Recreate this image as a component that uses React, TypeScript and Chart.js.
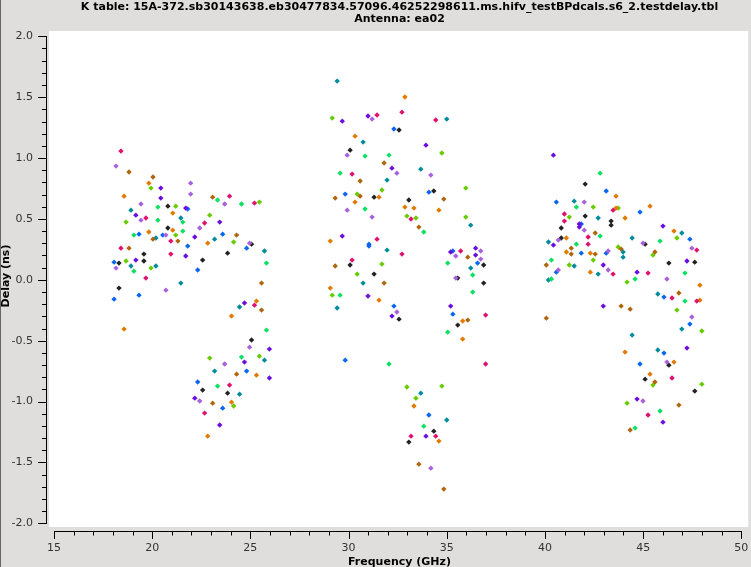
import React, { useEffect, useRef } from 'react';
import { Chart, registerables } from 'chart.js';

Chart.register(...registerables);

const TITLE_LINES = [
  'K table: 15A-372.sb30143638.eb30477834.57096.46252298611.ms.hifv_testBPdcals.s6_2.testdelay.tbl',
  'Antenna: ea02',
];
const X_TITLE = 'Frequency (GHz)';
const Y_TITLE = 'Delay (ns)';

const X_TICKS = [15, 20, 25, 30, 35, 40, 45, 50];
const Y_TICKS = [-2.0, -1.5, -1.0, -0.5, 0.0, 0.5, 1.0, 1.5, 2.0];
const X_MINOR_STEP = 1;
const Y_MINOR_STEP = 0.1;
const X_MIN = 14.645;
const X_MAX = 50.355;
const Y_MIN = -2.0632;
const Y_MAX = 2.0435;

type P = [number, number];

const magentaPts: P[] = [
  [18.41, 1.057], [23.94, 0.687], [25.21, 0.63], [19.68, 0.507], [22.67, 0.466], [20.95, 0.318], [18.41, 0.26], [20.95, 0.211], [19.68, 0.014], [25.21, -0.208], [23.94, -0.865], [22.67, -1.095],
  [31.45, 1.353], [32.72, 1.377], [34.44, 1.312], [30.18, 0.868], [33.18, 0.499], [31.45, 0.334], [32.72, 0.211], [35.71, 0.236], [30.18, 0.162], [36.98, -0.29], [36.98, -0.692], [33.18, -1.284], [34.44, -1.284],
  [43.47, 0.572], [40.99, 0.54], [40.99, 0.482], [42.2, 0.351], [42.2, 0.293], [47.73, 0.244], [43.47, 0.047], [45.25, 0.055], [46.47, -0.15], [47.73, -0.175], [46.47, -0.807], [45.25, -1.111],
];
const lavenderPts: P[] = [
  [18.16, 0.934], [21.96, 0.794], [21.96, 0.704], [23.69, 0.622], [19.43, 0.622], [19.43, 0.49], [22.42, 0.425], [20.7, 0.367], [24.96, 0.301], [18.16, 0.096], [20.7, -0.085], [24.96, -0.553], [23.69, -0.692], [22.42, -0.996],
  [31.2, 1.32], [29.93, 1.024], [32.46, 0.876], [34.19, 0.86], [29.93, 0.572], [31.2, 0.515], [35.46, 0.195], [36.73, 0.236], [36.73, 0.17], [35.46, 0.014], [32.46, -0.265], [34.19, -1.547],
  [42.0, 0.638], [42.0, 0.408], [40.68, 0.326], [44.99, 0.301], [43.22, 0.236], [47.48, 0.26], [40.68, 0.08], [43.22, 0.08], [46.21, 0.006], [47.48, -0.306], [46.21, -0.676], [44.99, -0.996],
];
const brownPts: P[] = [
  [18.82, 0.885], [20.04, 0.844], [23.08, 0.679], [20.04, 0.334], [21.31, 0.318], [24.3, 0.367], [18.82, 0.26], [25.57, -0.027], [25.57, -0.249], [24.3, -0.775], [23.08, -1.013],
  [31.81, 0.959], [30.59, 0.811], [30.59, 0.687], [29.32, 0.671], [34.85, 0.663], [33.58, 0.433], [36.07, 0.186], [29.32, 0.113], [31.81, -0.027], [36.07, -0.331], [33.58, -1.514], [34.85, -1.719],
  [42.56, 0.384], [41.34, 0.26], [41.34, 0.211], [42.56, 0.211], [43.88, 0.252], [45.6, 0.228], [40.07, 0.121], [46.82, -0.109], [43.88, -0.216], [44.34, -0.241], [40.07, -0.315], [45.6, -0.84], [46.82, -1.029], [44.34, -1.234],
];
const orangePts: P[] = [
  [19.83, 0.794], [18.57, 0.687], [21.05, 0.548], [21.05, 0.408], [19.83, 0.392], [22.83, 0.301], [25.31, -0.175], [24.04, -0.298], [18.57, -0.405], [25.31, -0.783], [24.04, -1.005], [22.83, -1.284],
  [32.87, 1.501], [30.33, 1.18], [31.55, 0.679], [30.33, 0.638], [32.87, 0.597], [33.33, 0.589], [34.6, 0.572], [29.07, 0.318], [29.07, -0.068], [31.55, -0.167], [35.81, -0.339], [35.81, -0.487], [33.33, -1.037], [34.6, -1.325],
  [43.62, 0.687], [45.35, 0.605], [43.62, 0.589], [44.08, 0.507], [46.57, 0.4], [41.09, 0.343], [41.09, 0.228], [42.31, 0.219], [42.31, 0.063], [47.89, -0.044], [47.89, -0.167], [44.08, -0.594], [46.57, -0.676], [45.35, -0.775],
];
const purplePts: P[] = [
  [20.44, 0.753], [20.44, 0.671], [21.71, 0.589], [19.17, 0.531], [23.44, 0.474], [22.17, 0.351], [21.71, 0.195], [19.17, 0.162], [24.7, -0.191], [25.97, -0.569], [24.7, -0.676], [25.97, -0.807], [22.17, -0.972], [23.44, -1.193],
  [29.68, 1.303], [30.99, 1.345], [33.94, 1.106], [32.21, 0.917], [29.68, 0.359], [35.2, 0.228], [36.47, 0.26], [36.47, 0.203], [30.99, -0.134], [32.21, -0.298], [35.2, -0.216], [33.94, -1.284],
  [40.43, 1.024], [41.75, 0.458], [41.75, 0.433], [46.01, 0.441], [40.43, 0.285], [42.97, 0.121], [44.69, 0.063], [47.23, 0.154], [42.97, -0.216], [47.23, -0.561], [44.69, -0.98], [46.01, -1.169],
];
const limePts: P[] = [
  [19.94, 0.753], [25.46, 0.638], [21.2, 0.605], [18.67, 0.474], [22.93, 0.531], [21.2, 0.367], [24.15, 0.31], [18.67, 0.154], [19.94, 0.096], [22.93, -0.643], [25.46, -0.627], [24.15, -1.037],
  [29.17, 1.328], [34.75, 1.041], [35.97, 0.753], [31.7, 0.737], [30.44, 0.704], [32.97, 0.523], [33.43, 0.507], [35.97, 0.515], [31.7, 0.129], [30.44, 0.047], [29.17, -0.126], [32.97, -0.881], [34.75, -0.873], [33.43, -0.972],
  [42.46, 0.597], [43.73, 0.589], [41.24, 0.515], [46.72, 0.343], [43.73, 0.269], [45.5, 0.203], [41.24, 0.121], [42.46, 0.162], [44.18, -0.019], [46.72, -0.249], [47.99, -0.421], [45.5, -0.865], [47.99, -0.857], [44.18, -1.013],
];
const greenPts: P[] = [
  [23.33, 0.655], [24.55, 0.622], [20.29, 0.597], [20.29, 0.49], [21.56, 0.474], [21.56, 0.4], [19.07, 0.367], [19.07, 0.071], [25.82, 0.137], [25.82, -0.413], [24.55, -0.635], [23.33, -0.873],
  [30.84, 1.016], [32.06, 1.024], [29.57, 0.876], [30.84, 0.581], [33.83, 0.392], [35.05, 0.137], [36.32, 0.039], [36.32, -0.101], [29.57, -0.126], [35.05, -0.43], [32.06, -0.692], [33.83, -1.202],
  [42.81, 0.876], [41.6, 0.597], [42.81, 0.359], [41.6, 0.293], [45.86, 0.318], [40.33, 0.162], [40.33, 0.006], [44.59, 0.006], [47.13, 0.055], [47.13, -0.175], [45.86, -1.078], [44.59, -1.218],
];
const tealPts: P[] = [
  [18.92, 0.572], [21.46, 0.507], [20.19, 0.343], [23.18, 0.334], [25.72, 0.236], [18.92, 0.113], [20.19, 0.113], [21.46, -0.027], [24.45, -0.224], [25.72, -0.66], [23.18, -0.75], [24.45, -0.939],
  [29.42, 1.632], [35.0, 1.32], [30.74, 1.131], [33.68, 0.909], [31.96, 0.819], [36.22, 0.449], [31.96, 0.244], [36.22, 0.096], [30.74, -0.027], [29.42, -0.232], [33.68, -0.931], [35.0, -1.152],
  [41.49, 0.646], [42.71, 0.507], [46.97, 0.384], [44.44, 0.343], [40.18, 0.31], [43.98, 0.228], [43.98, 0.186], [41.49, 0.113], [40.18, -0.002], [42.71, 0.047], [45.75, -0.117], [46.97, -0.405], [44.44, -0.454], [45.75, -0.577],
];
const bluePts: P[] = [
  [21.81, 0.581], [19.33, 0.375], [20.54, 0.367], [23.59, 0.375], [21.81, 0.277], [24.81, 0.26], [18.06, 0.145], [22.32, 0.08], [19.33, -0.126], [18.06, -0.159], [24.81, -0.75], [22.32, -0.84], [23.59, -1.054],
  [32.31, 1.238], [29.83, 0.704], [34.09, 0.72], [31.04, 0.293], [31.04, 0.277], [35.31, 0.236], [36.57, 0.137], [32.31, -0.216], [35.31, -0.282], [29.83, -0.66], [34.09, -1.111],
  [43.12, 0.729], [40.58, 0.638], [44.84, 0.556], [41.85, 0.458], [47.38, 0.334], [41.85, 0.219], [43.12, 0.219], [40.58, 0.063], [46.06, -0.142], [47.38, -0.364], [46.06, -0.602], [44.84, -0.692],
];
const blackPts: P[] = [
  [20.8, 0.605], [20.8, 0.425], [25.06, 0.293], [19.58, 0.211], [23.84, 0.219], [18.31, 0.137], [19.58, 0.154], [22.57, 0.162], [18.31, -0.068], [25.06, -0.495], [22.57, -0.906], [23.84, -0.931],
  [32.57, 1.23], [30.08, 1.065], [31.3, 0.679], [34.34, 0.729], [33.07, 0.655], [36.88, 0.121], [30.08, 0.121], [31.3, 0.047], [35.56, 0.014], [36.88, -0.027], [32.57, -0.323], [35.56, -0.372], [34.34, -1.243], [33.07, -1.333],
  [42.05, 0.786], [42.05, 0.523], [43.37, 0.482], [43.37, 0.449], [40.83, 0.425], [40.83, 0.343], [45.1, 0.293], [46.31, 0.137], [47.63, 0.145], [46.31, -0.701], [45.1, -0.816], [47.63, -0.914],
];

const SERIES: { pts: P[]; color: string }[] = [
  { pts: magentaPts, color: '#e0106e' },
  { pts: lavenderPts, color: '#a862dc' },
  { pts: brownPts, color: '#b0660e' },
  { pts: orangePts, color: '#e27a00' },
  { pts: purplePts, color: '#6a0ee0' },
  { pts: limePts, color: '#66cc00' },
  { pts: greenPts, color: '#0ee062' },
  { pts: tealPts, color: '#008c9c' },
  { pts: bluePts, color: '#0a66f0' },
  { pts: blackPts, color: '#222222' },
];

const BG = '#dfdedd';
const FONT = "'DejaVu Sans', sans-serif";

const framePlugin = {
  id: 'frame',
  beforeDraw(chart: any) {
    const ctx = chart.ctx as CanvasRenderingContext2D;
    const { left, top, right, bottom } = chart.chartArea;
    ctx.save();
    ctx.fillStyle = BG;
    ctx.fillRect(0, 0, chart.width, chart.height);
    ctx.fillStyle = '#ffffff';
    ctx.fillRect(left + 2, top, right - left - 2, bottom - top - 4);
    ctx.fillStyle = '#666666';
    ctx.fillRect(0, 0, 1, chart.height);
    ctx.restore();
  },
  afterDraw(chart: any) {
    const ctx = chart.ctx as CanvasRenderingContext2D;
    const xs = chart.scales.x;
    const ys = chart.scales.y;
    const { left, bottom } = chart.chartArea;
    ctx.save();
    ctx.strokeStyle = '#000';
    ctx.lineWidth = 1;
    ctx.beginPath();
    const ax = Math.round(left) - 0.5;
    const yTop = Math.round(ys.getPixelForValue(Y_TICKS[Y_TICKS.length - 1]));
    const yBot = Math.round(ys.getPixelForValue(Y_TICKS[0]));
    ctx.moveTo(ax, yTop);
    ctx.lineTo(ax, yBot + 1);
    const yFirst = Y_TICKS[0];
    const yLast = Y_TICKS[Y_TICKS.length - 1];
    const nY = Math.round((yLast - yFirst) / Y_MINOR_STEP);
    for (let i = 0; i <= nY; i++) {
      const v = yFirst + i * Y_MINOR_STEP;
      const major = i % 5 === 0;
      const py = Math.round(ys.getPixelForValue(v)) + 0.5;
      ctx.moveTo(ax, py);
      ctx.lineTo(ax - (major ? 8.5 : 4.5), py);
    }
    const ay = Math.round(bottom) + 0.5;
    const xL = Math.round(xs.getPixelForValue(X_TICKS[0]));
    const xR = Math.round(xs.getPixelForValue(X_TICKS[X_TICKS.length - 1]));
    ctx.moveTo(xL, ay);
    ctx.lineTo(xR + 1, ay);
    const xFirst = X_TICKS[0];
    const xLast = X_TICKS[X_TICKS.length - 1];
    const nX = Math.round((xLast - xFirst) / X_MINOR_STEP);
    for (let i = 0; i <= nX; i++) {
      const v = xFirst + i * X_MINOR_STEP;
      const major = i % 5 === 0;
      const px = Math.round(xs.getPixelForValue(v)) + 0.5;
      ctx.moveTo(px, ay);
      ctx.lineTo(px, ay + (major ? 7.5 : 4));
    }
    ctx.stroke();

    ctx.fillStyle = '#000';
    ctx.font = `bold 11px ${FONT}`;
    ctx.textAlign = 'center';
    ctx.textBaseline = 'middle';
    const cx = 399.5;
    ctx.fillText(TITLE_LINES[0], cx, 7.5);
    ctx.fillText(TITLE_LINES[1], cx, 19.5);
    ctx.textBaseline = 'alphabetic';
    ctx.fillText(X_TITLE, cx, 565);
    ctx.translate(9, 276);
    ctx.rotate(-Math.PI / 2);
    ctx.fillText(Y_TITLE, 0, 0);
    ctx.restore();
  },
};

export default function App() {
  const ref = useRef<HTMLCanvasElement | null>(null);
  useEffect(() => {
    if (!ref.current) return;
    Chart.defaults.font.family = FONT;
    const chart = new Chart(ref.current, {
      type: 'scatter',
      data: {
        datasets: SERIES.map((s) => ({
          data: s.pts.map(([x, y]) => ({ x, y })),
          backgroundColor: s.color,
          borderColor: s.color,
          borderWidth: 0,
          pointStyle: 'rectRot',
          pointRadius: 2.7,
          pointHoverRadius: 2.7,
        })),
      },
      options: {
        animation: false,
        responsive: false,
        events: [],
        layout: { padding: { top: 31, left: 0, right: 0, bottom: 0 } },
        plugins: {
          legend: { display: false },
          title: { display: false },
          tooltip: { enabled: false },
        },
        scales: {
          x: {
            type: 'linear',
            position: 'bottom',
            min: X_MIN,
            max: X_MAX,
            grid: { display: false, drawTicks: false },
            border: { display: false },
            ticks: {
              padding: 11,
              color: '#333',
              font: { size: 11, family: FONT },
              autoSkip: false,
              maxRotation: 0,
              callback: (v: any) => String(v),
            },
            afterBuildTicks: (s: any) => {
              s.ticks = X_TICKS.map((value) => ({ value }));
            },
            afterFit: (s: any) => {
              s.height = 36;
              s.paddingLeft = 0;
              s.paddingRight = 0;
            },
          },
          y: {
            type: 'linear',
            position: 'left',
            min: Y_MIN,
            max: Y_MAX,
            grid: { display: false, drawTicks: false },
            border: { display: false },
            ticks: {
              padding: 14,
              color: '#333',
              font: { size: 11, family: FONT },
              autoSkip: false,
              callback: (v: any) => Number(v).toFixed(1),
            },
            afterBuildTicks: (s: any) => {
              s.ticks = Y_TICKS.map((value) => ({ value }));
            },
            afterFit: (s: any) => {
              s.width = 47;
              s.paddingTop = 0;
              s.paddingBottom = 0;
            },
          },
        },
      },
      plugins: [framePlugin],
    });
    return () => chart.destroy();
  }, []);
  return (
    <div style={{ position: 'fixed', left: 0, top: 0, width: 751, height: 567 }}>
      <canvas ref={ref} width={751} height={567} style={{ display: 'block', width: 751, height: 567 }} />
    </div>
  );
}
